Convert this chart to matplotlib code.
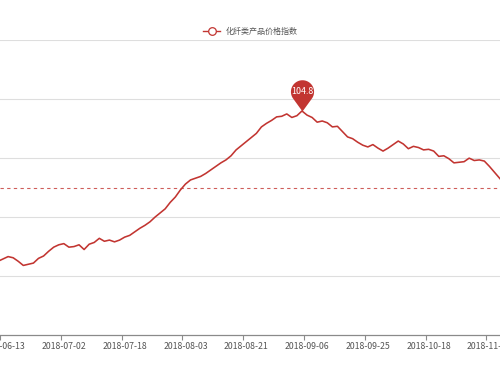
import numpy as np
import matplotlib
matplotlib.use("Agg")
import matplotlib.pyplot as plt
from matplotlib.path import Path

plt.rcParams["font.family"] = ["Noto Sans CJK SC", "DejaVu Sans"]

# ─────────────────────────────────────────────
# DATA
# ─────────────────────────────────────────────
SERIES_NAME = "化纤类产品价格指数"

# one value per trading day, first value is the day before 2018-06-13
START_IDX = -1
INDEX_VALUES = [
    102.25,
    102.29, 102.33, 102.31, 102.25, 102.18, 102.20, 102.22, 102.30, 102.34, 102.42,
    102.49, 102.53, 102.55, 102.49, 102.50, 102.53, 102.45, 102.54, 102.57, 102.64,
    102.59, 102.61, 102.58, 102.61, 102.66, 102.69, 102.75, 102.81, 102.86, 102.92,
    103.00, 103.07, 103.14, 103.25, 103.34, 103.46, 103.56, 103.63, 103.66, 103.69,
    103.74, 103.80, 103.86, 103.92, 103.97, 104.04, 104.14, 104.21, 104.28, 104.35,
    104.42, 104.53, 104.59, 104.64, 104.70, 104.71, 104.75, 104.69, 104.72, 104.80,
    104.73, 104.69, 104.61, 104.63, 104.60, 104.53, 104.54, 104.45, 104.36, 104.33,
    104.27, 104.22, 104.19, 104.23, 104.17, 104.12, 104.17, 104.23, 104.29, 104.24,
    104.16, 104.20, 104.18, 104.14, 104.15, 104.12, 104.03, 104.04, 103.99, 103.92,
    103.93, 103.94, 104.00, 103.96, 103.97, 103.95, 103.86, 103.76, 103.66, 103.56,
]

AVG_VALUE = 103.49

TICK_LABELS = ["2018-06-13", "2018-07-02", "2018-07-18", "2018-08-03", "2018-08-21",
               "2018-09-06", "2018-09-25", "2018-10-18", "2018-11-05"]
TICK_STEP = 12

Y_MIN, Y_MAX = 101, 106

# ─────────────────────────────────────────────
# STYLE
# ─────────────────────────────────────────────
RED = "#c23531"
GRID = "#dedede"
AXIS = "#8a8a8a"
TEXT = "#555555"


def pin_path(dist=1.7):
    # circle of radius 1 centred at (0, dist) with a tail down to (0, 0)
    phi = np.arccos(1.0 / dist)
    a0 = -np.pi / 2 + phi
    a1 = 3 * np.pi / 2 - phi
    t = np.linspace(a0, a1, 60)
    verts = np.column_stack([np.cos(t), dist + np.sin(t)])
    verts = np.vstack([[0, 0], verts, [0, 0]])
    return Path(verts, closed=True)


values = np.array(INDEX_VALUES)
x = np.arange(len(values)) + START_IDX

fig = plt.figure(figsize=(5, 3.75), dpi=100)
ax = fig.add_axes([0, 40 / 375, 1, 295 / 375])

# px -> idx: x_px = 0.15 + 5.096 * idx
ax.set_xlim(-0.15 / 5.096, (500 - 0.15) / 5.096)
ax.set_ylim(Y_MIN, Y_MAX + 0.004)

for gy in range(Y_MIN + 1, Y_MAX + 1):
    ax.axhline(gy, color=GRID, lw=0.8, zorder=0)

ax.axhline(AVG_VALUE, color=RED, lw=0.8, ls=(0, (3, 3)), alpha=0.8, zorder=1)

ax.plot(x, values, color=RED, lw=1.15, zorder=3)

# peak pin
i_max = int(np.argmax(values))
x_max, v_max = x[i_max], values[i_max]
ax.plot([x_max], [v_max], marker=pin_path(), markersize=45, color=RED,
        markeredgewidth=0, zorder=4, clip_on=False)
ax.annotate(f"{v_max:.1f}", (x_max, v_max), xytext=(0, 14), textcoords="offset points",
            ha="center", va="center", color="white", fontsize=6.4, zorder=5)

for side in ["top", "left", "right"]:
    ax.spines[side].set_visible(False)
ax.spines["bottom"].set_color(AXIS)
ax.spines["bottom"].set_linewidth(0.9)

label_pos = np.arange(len(TICK_LABELS)) * TICK_STEP
ax.set_xticks(label_pos)
ax.set_xticklabels(TICK_LABELS)
ax.set_xticks(label_pos - 0.6, minor=True)
ax.tick_params(axis="x", which="major", length=0, pad=5, labelsize=6.3, labelcolor=TEXT)
ax.tick_params(axis="x", which="minor", length=3.5, width=0.8, color=AXIS)
ax.set_yticks([])

# legend
fig.legend([plt.Line2D([], [], color=RED, lw=1.0, marker="o", markersize=5.5,
                       markerfacecolor="white", markeredgewidth=0.9)],
           [SERIES_NAME], loc="center", bbox_to_anchor=(0.5, 1 - 31 / 375),
           frameon=False, fontsize=5.8, handlelength=2.2, handletextpad=0.6,
           labelcolor=TEXT)

fig.savefig("out.png", dpi=100)
